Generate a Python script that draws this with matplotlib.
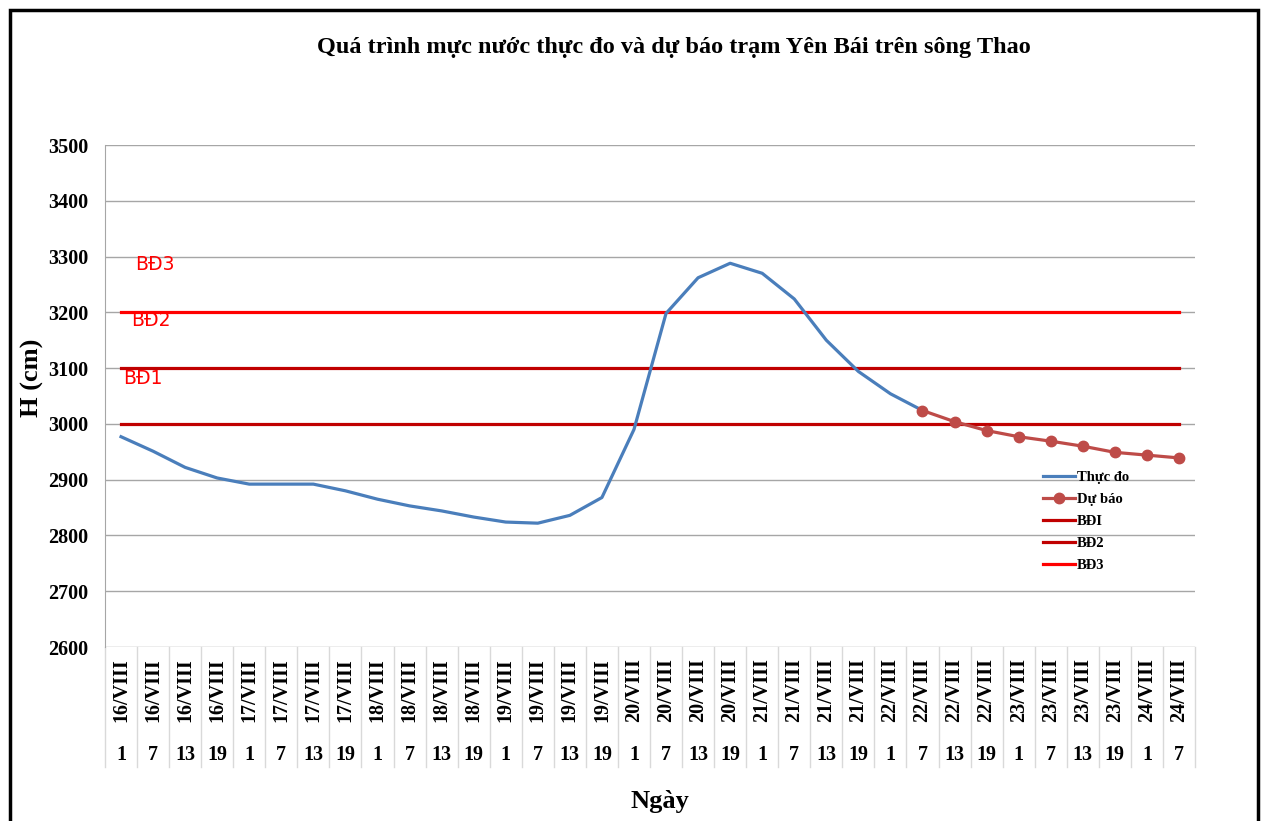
import matplotlib.pyplot as plt
import matplotlib.patches as patches
import numpy as np

days = ["16/VIII"] * 4 + ["17/VIII"] * 4 + ["18/VIII"] * 4 + ["19/VIII"] * 4 + \
       ["20/VIII"] * 4 + ["21/VIII"] * 4 + ["22/VIII"] * 4 + ["23/VIII"] * 4 + ["24/VIII"] * 2
hours = ["1", "7", "13", "19"] * 8 + ["1", "7"]

thuc_do = [2977, 2951, 2922, 2903, 2892, 2892, 2892, 2880, 2865, 2853, 2844, 2833, 2824,
           2822, 2836, 2868, 2990, 3198, 3262, 3288, 3270, 3224, 3150, 3094, 3054, 3024]
du_bao = [3024, 3004, 2988, 2977, 2969, 2960, 2949, 2944, 2939]
bd1 = 3000
bd2 = 3100
bd3 = 3200

serif = "Liberation Serif"
n = len(days)
x = np.arange(n)
x_obs = x[:len(thuc_do)]
x_fc = x[len(thuc_do) - 1:len(thuc_do) - 1 + len(du_bao)]

fig = plt.figure(figsize=(12.67, 8.21), dpi=100)
ax = fig.add_axes([105 / 1267, 1 - 647 / 821, 1090 / 1267, 502 / 821])

ax.set_ylim(2600, 3500)
ax.set_xlim(-0.5, n - 0.5)
ax.set_yticks(np.arange(2600, 3501, 100))
ax.yaxis.grid(True, color="#a6a6a6", linewidth=1)
ax.set_axisbelow(True)
for s in ["top", "right", "bottom"]:
    ax.spines[s].set_visible(False)
ax.spines["left"].set_color("#a6a6a6")
ax.tick_params(axis="y", length=0, pad=12)
for lab in ax.get_yticklabels():
    lab.set_fontfamily(serif)
    lab.set_fontweight("bold")
    lab.set_fontsize(14.5)
ax.set_xticks([])

ax.plot(x_obs, thuc_do, color="#4a7ebb", linewidth=2.3, label="Thực đo", zorder=4)
ax.plot(x_fc, du_bao, color="#be4b48", linewidth=2.3, marker="o", markersize=7.5,
        label="Dự báo", zorder=5)
ax.plot(x, [bd1] * n, color="#c00000", linewidth=2.3, label="BĐI", zorder=3)
ax.plot(x, [bd2] * n, color="#c00000", linewidth=2.3, label="BĐ2", zorder=3)
ax.plot(x, [bd3] * n, color="#ff0000", linewidth=2.3, label="BĐ3", zorder=3)

ax.text(0.45, bd3 + 85, "BĐ3", color="red", fontsize=13.5, family="DejaVu Sans", va="center")
ax.text(0.3, bd2 + 85, "BĐ2", color="red", fontsize=13.5, family="DejaVu Sans", va="center")
ax.text(0.05, bd1 + 82, "BĐ1", color="red", fontsize=13.5, family="DejaVu Sans", va="center")

# two-level category axis
tr = ax.get_xaxis_transform()
for i in range(n):
    ax.text(i, -0.086, days[i], rotation=90, ha="center", va="center", transform=tr,
            family=serif, weight="bold", fontsize=14.5, clip_on=False)
    ax.text(i, -0.215, hours[i], ha="center", va="center", transform=tr,
            family=serif, weight="bold", fontsize=14.5, clip_on=False)
for i in range(n + 1):
    ax.plot([i - 0.5, i - 0.5], [0, -0.24], transform=tr, color="#d9d9d9",
            linewidth=1, clip_on=False)

leg = ax.legend(loc="upper left", bbox_to_anchor=(1030 / 1267, 1 - 458 / 821),
                bbox_transform=fig.transFigure, frameon=False,
                prop={"family": serif, "weight": "bold", "size": 10.5},
                handlelength=2.2, handletextpad=0.1, labelspacing=0.6)

fig.text(0.532, 1 - 47 / 821, "Quá trình mực nước thực đo và dự báo trạm Yên Bái trên sông Thao",
         ha="center", va="center", family=serif, weight="bold", fontsize=17.5)
fig.text(32 / 1267, 1 - 378 / 821, "H (cm)", rotation=90, ha="center", va="center",
         family=serif, weight="bold", fontsize=19)
fig.text(660 / 1267, 1 - 801 / 821, "Ngày", ha="center", va="center",
         family=serif, weight="bold", fontsize=19)

fig.patches.append(patches.Rectangle((9.5 / 1267, -0.05), 1248 / 1267, 1 - 10.5 / 821 + 0.05,
                                     transform=fig.transFigure, fill=False,
                                     edgecolor="black", linewidth=2.5))

fig.savefig("out.png", dpi=100)
